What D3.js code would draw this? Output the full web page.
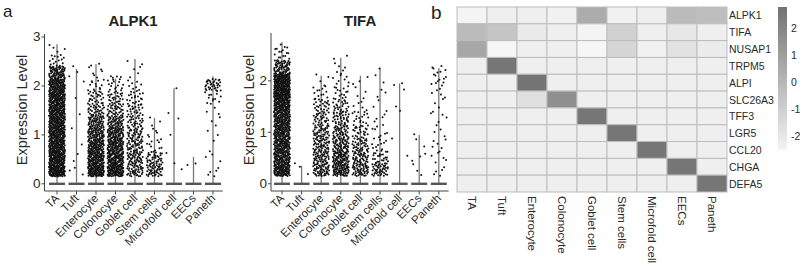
<!DOCTYPE html>
<html><head><meta charset="utf-8">
<script src="https://cdn.jsdelivr.net/npm/d3@7/dist/d3.min.js"></script>
<style>body{margin:0;background:#fff}svg{display:block;font-family:"Liberation Sans",Arial,sans-serif}</style>
</head><body><svg id="c" width="800" height="270"></svg>
<script>
// ---------- DATA ----------
const cellTypes = ["TA","Tuft","Enterocyte","Colonocyte","Goblet cell","Stem cells","Microfold cell","EECs","Paneth"];
// expression bins (lower edges, width 0.25) for nonzero cells
const binEdges = [0.15,0.4,0.65,0.9,1.15,1.4,1.65,1.9,2.15,2.4,2.65,2.9];
// point counts per bin, per cell type
const alpk1Counts = [
  [130,120,115,110,110,110,110,100,70,15,4],
  [3,2,1,1,0,1,1,1,2,1,0],
  [110,100,90,75,60,35,25,12,6,2,0],
  [110,100,90,75,55,35,25,15,4,0,0],
  [45,45,40,35,30,25,18,8,4,2,0],
  [45,35,10,6,3,0,0,0,0,0,0],
  [1,2,0,1,1,1,0,1,0,0,0],
  [1,1,0,0,0,0,0,0,0,0,0],
  [5,3,2,2,3,4,12,35,0,0,0]
];
const alpk1Max = [2.85,2.35,2.45,2.15,2.55,1.35,1.95,0.55,2.2];
const tifaCounts = [
  [110,100,100,100,105,120,140,130,60,15,2],
  [2,1,0,0,0,0,0,0,0,0,0],
  [55,50,45,40,30,25,12,4,0,0,0],
  [80,75,55,45,35,25,15,8,5,2,0],
  [55,45,35,25,15,6,4,3,0,0,0],
  [45,25,10,8,4,3,3,2,1,0,0],
  [0,1,1,0,0,2,1,2,0,0,0],
  [3,3,2,1,0,0,0,0,0,0,0],
  [5,6,5,4,4,4,5,10,6,0,0]
];
const tifaMax = [2.75,0.35,2.1,2.45,2.1,2.25,1.95,0.95,2.25];
const alpk1Ticks = [0,1,2,3];
const tifaTicks = [0,1,2];

const genes = ["ALPK1","TIFA","NUSAP1","TRPM5","ALPI","SLC26A3","TFF3","LGR5","CCL20","CHGA","DEFA5"];
// scaled expression, rows = genes, cols = cellTypes
const heat = [
  [-2.5,-2.3,-2.3,-2.4, 0.4,-2.4,-2.3,-0.2,-0.3],
  [-0.2,-0.6,-2.1,-2.3,-2.5,-1.1,-2.3,-2.0,-2.3],
  [ 0.6,-2.6,-2.3,-2.3,-2.6,-1.3,-2.4,-1.8,-2.2],
  [-2.3, 2.6,-2.3,-2.3,-2.3,-2.3,-2.3,-2.3,-2.3],
  [-2.3,-2.3, 2.7,-2.3,-2.3,-2.3,-2.3,-2.3,-2.3],
  [-2.3,-2.3,-1.7, 1.6,-2.3,-2.3,-2.3,-2.3,-2.3],
  [-2.3,-2.3,-2.3,-2.3, 2.6,-2.3,-2.3,-2.3,-2.3],
  [-2.3,-2.3,-2.3,-2.3,-2.3, 2.6,-2.3,-2.3,-2.3],
  [-2.3,-2.3,-2.3,-2.3,-2.3,-2.3, 2.6,-2.3,-2.3],
  [-2.3,-2.3,-2.3,-2.3,-2.3,-2.3,-2.3, 2.6,-2.3],
  [-2.3,-2.3,-2.3,-2.3,-2.3,-2.3,-2.3,-2.3, 2.6]
];
const colorTicks = [2,1,0,-1,-2];

// ---------- DRAW ----------
const svg = d3.select("#c");
const txt = "#2a2a2a";

// Halton sequence for deterministic, even jitter layout
function halton(i, base){ let f=1, r=0; while(i>0){ f/=base; r+=f*(i%base); i=Math.floor(i/base);} return r; }

function violinPanel(opt){
  const g = svg.append("g");
  const x = d3.scaleBand().domain(cellTypes).range(opt.xr);
  const y = d3.scaleLinear().domain(opt.yd).range([191,opt.ytop]);
  const bw = x.bandwidth();
  const jw = 16;
  g.append("line").attr("x1",opt.ax).attr("x2",opt.ax).attr("y1",opt.ytop).attr("y2",191).attr("stroke","#444").attr("stroke-width",1);
  g.append("line").attr("x1",opt.ax).attr("x2",opt.xr[1]).attr("y1",191).attr("y2",191).attr("stroke","#444").attr("stroke-width",1);
  opt.ticks.forEach(t=>{
    g.append("line").attr("x1",opt.ax-3).attr("x2",opt.ax).attr("y1",y(t)).attr("y2",y(t)).attr("stroke","#444");
    g.append("text").attr("x",opt.ax-4).attr("y",y(t)+4.5).attr("text-anchor","end").attr("font-size",13.5).attr("fill",txt).text(t);
  });
  cellTypes.forEach((c,i)=>{
    const cx = x(c)+bw/2;
    g.append("line").attr("x1",cx).attr("x2",cx).attr("y1",191).attr("y2",194.5).attr("stroke","#444");
    g.append("text").attr("transform",`translate(${cx+3},${199}) rotate(-45)`).attr("text-anchor","end").attr("font-size",11.5).attr("fill",txt).text(c);
    g.append("line").attr("x1",cx).attr("x2",cx).attr("y1",y(0)).attr("y2",y(opt.max[i])).attr("stroke","#777").attr("stroke-width",1.3);
    g.append("line").attr("x1",cx-jw/2).attr("x2",cx+jw/2).attr("y1",y(0)).attr("y2",y(0)).attr("stroke","#555").attr("stroke-width",2.4);
    const pts=[];
    let idx = 1 + i*37;
    opt.counts[i].forEach((n,b)=>{
      const lo=binEdges[b], hi=Math.min(binEdges[b+1], opt.max[i]+0.05);
      for(let k=0;k<n;k++){
        const u=halton(idx,2), v=halton(idx,3); idx++;
        pts.push([cx+(u-0.5)*jw, y(lo+v*(hi-lo))]);
      }
    });
    g.selectAll(null).data(pts).enter().append("circle").attr("cx",d=>d[0]).attr("cy",d=>d[1]).attr("r",1).attr("fill","#111");
  });
  g.append("text").attr("transform",`translate(${opt.ylx},110) rotate(-90)`).attr("text-anchor","middle").attr("font-size",14.5).attr("fill",txt).text("Expression Level");
  g.append("text").attr("x",opt.tx).attr("y",26).attr("text-anchor","middle").attr("font-size",15).attr("font-weight","bold").attr("fill","#222").text(opt.title);
}

violinPanel({xr:[47.25,222.75],ax:44.5,yd:[-0.147,3.061],ytop:34,ticks:alpk1Ticks,counts:alpk1Counts,max:alpk1Max,ylx:27,tx:133,title:"ALPK1"});
violinPanel({xr:[272.2,448.6],ax:271,yd:[-0.14,2.93],ytop:33,ticks:tifaTicks,counts:tifaCounts,max:tifaMax,ylx:254,tx:360,title:"TIFA"});

svg.append("text").attr("x",3).attr("y",17).attr("font-size",17).attr("fill","#222").text("a");
svg.append("text").attr("x",431).attr("y",19).attr("font-size",19).attr("fill","#222").text("b");

// heatmap
const hx = d3.scaleBand().domain(cellTypes).range([457,727]);
const hy = d3.scaleBand().domain(genes).range([7,192]);
const col = d3.scaleLinear().domain([-2.52,2.78]).range(["#f4f4f4","#727272"]);
const hg = svg.append("g");
genes.forEach((gn,r)=>{
  cellTypes.forEach((c,k)=>{
    hg.append("rect").attr("x",hx(c)).attr("y",hy(gn)).attr("width",hx.bandwidth()).attr("height",hy.bandwidth())
      .attr("fill",col(heat[r][k])).attr("stroke","#bdbdbd").attr("stroke-width",1);
  });
  hg.append("text").attr("x",729).attr("y",hy(gn)+hy.bandwidth()/2+4).attr("font-size",10.5).attr("fill",txt).text(gn);
});
cellTypes.forEach(c=>{
  hg.append("text").attr("transform",`translate(${hx(c)+hx.bandwidth()/2-4},196) rotate(90)`).attr("font-size",11.5).attr("fill",txt).text(c);
});
// colorbar
const cy = d3.scaleLinear().domain([-2.52,2.78]).range([150,7]);
const defs = svg.append("defs");
const grad = defs.append("linearGradient").attr("id","cb").attr("x1",0).attr("x2",0).attr("y1",1).attr("y2",0);
d3.range(0,1.01,0.1).forEach(t=>grad.append("stop").attr("offset",t).attr("stop-color",col(-2.52+t*5.3)));
svg.append("rect").attr("x",778).attr("y",7).attr("width",9).attr("height",143).attr("fill","url(#cb)");
colorTicks.forEach(t=>{
  svg.append("text").attr("x",791).attr("y",cy(t)+4).attr("font-size",10.5).attr("fill",txt).text(t);
});
</script></body></html>
